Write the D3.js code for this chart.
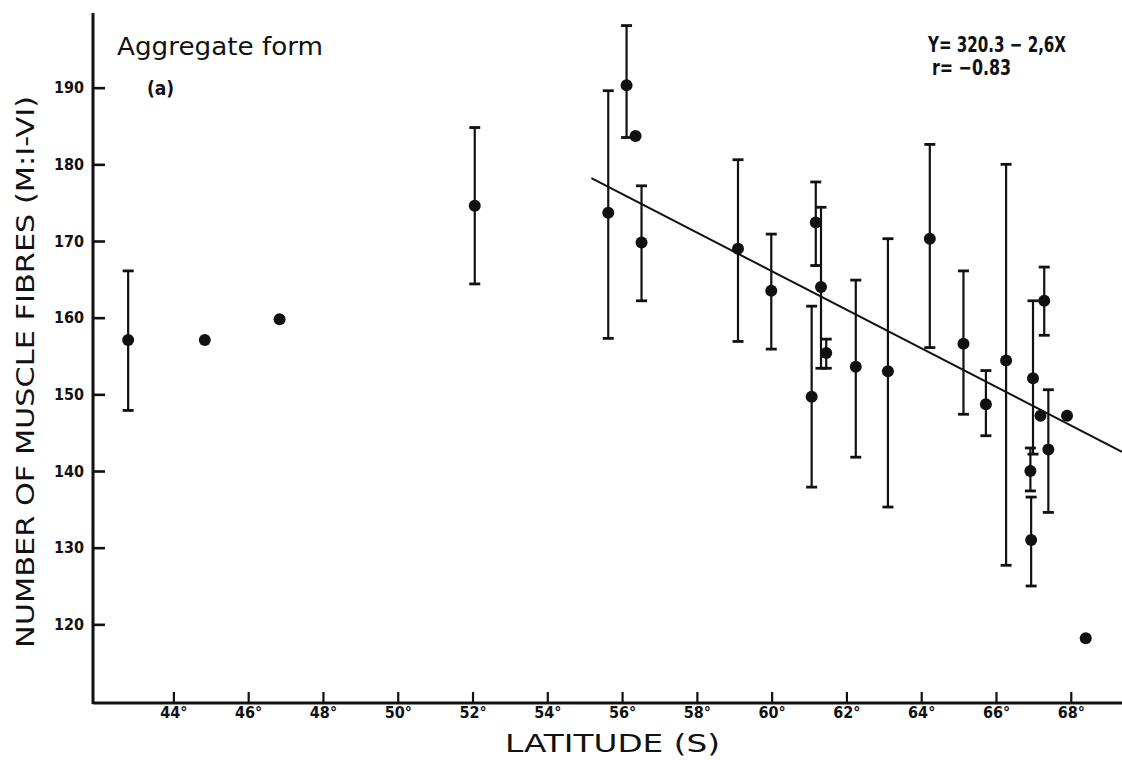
<!DOCTYPE html>
<html>
<head>
<meta charset="utf-8">
<script src="https://cdn.jsdelivr.net/npm/d3@7"></script>
<style>
  html, body { margin: 0; padding: 0; background: #fff; }
  svg { display: block; }
</style>
</head>
<body>
<svg id="chart" width="1122" height="760"></svg>
<script>
// ---- data ----
const latitudes = [42.79, 44.84, 46.84, 52.06, 55.63, 56.12, 56.36, 56.52, 59.10, 59.99,
                   61.07, 61.18, 61.32, 61.46, 62.25, 63.11, 64.23, 65.13, 65.73, 66.27,
                   66.92, 66.94, 66.99, 67.19, 67.29, 67.40, 67.90, 68.40];
const means     = [157.1, 157.1, 159.8, 174.6, 173.7, 190.3, 183.7, 169.8, 169.0, 163.5,
                   149.7, 172.4, 164.0, 155.4, 153.6, 153.0, 170.3, 156.6, 148.7, 154.4,
                   140.0, 131.0, 152.1, 147.2, 162.2, 142.8, 147.2, 118.2];
const upperErr  = [166.1, null, null, 184.8, 189.6, 198.1, null, 177.2, 180.6, 170.9,
                   161.5, 177.7, 174.4, 157.2, 164.9, 170.3, 182.6, 166.1, 153.1, 180.0,
                   143.0, 136.6, 162.2, null, 166.6, 150.6, null, null];
const lowerErr  = [147.9, null, null, 164.4, 157.3, 183.5, null, 162.2, 156.9, 155.9,
                   137.9, 166.8, 153.4, 153.4, 141.8, 135.3, 156.1, 147.4, 144.6, 127.7,
                   137.4, 125.0, 142.2, null, 157.7, 134.6, null, null];
const fitLats   = [55.18, 69.37];
const fitValues = [178.2, 142.5];
const xTickValues = [44, 46, 48, 50, 52, 54, 56, 58, 60, 62, 64, 66, 68];
const yTickValues = [120, 130, 140, 150, 160, 170, 180, 190];
const xTitle = "LATITUDE (S)";
const yTitle = "NUMBER OF MUSCLE FIBRES (M:I-VI)";
const panelTitle = "Aggregate form";
const panelLabel = "(a)";
const equationText = "Y= 320.3 \u2212 2,6X";
const rText = "r= \u22120.83";

// ---- drawing ----
const svg = d3.select("#chart");
const ink = "#111";
const boldFont = "'DejaVu Sans Condensed','Liberation Sans Narrow','Arial Narrow',sans-serif";
const plainFont = "'DejaVu Sans','Noto Sans',sans-serif";

const x = d3.scaleLinear().domain([41.85, 69.37]).range([93, 1122]);
const y = d3.scaleLinear().domain([110, 200]).range([701, 11]);

const data = latitudes.map((lat, i) => ({lat, mean: means[i], hi: upperErr[i], lo: lowerErr[i]}));

// x axis
const xAxis = d3.axisBottom(x).tickValues(xTickValues).tickSize(0).tickPadding(4)
  .tickFormat(d => d + "\u00b0");
const gx = svg.append("g").attr("transform", "translate(0,703)").call(xAxis);
gx.select(".domain").remove();
gx.selectAll(".tick text").attr("font-family", boldFont).attr("font-weight", "bold")
  .attr("font-size", 16).attr("fill", ink);
gx.selectAll(".tick").append("line").attr("y1", 0).attr("y2", -11)
  .attr("stroke", ink).attr("stroke-width", 2.2);

// y axis
const yAxis = d3.axisLeft(y).tickValues(yTickValues).tickSize(0).tickPadding(9);
const gy = svg.append("g").attr("transform", "translate(93,0)").call(yAxis);
gy.select(".domain").remove();
gy.selectAll(".tick text").attr("font-family", boldFont).attr("font-weight", "bold")
  .attr("font-size", 16).attr("fill", ink);
gy.selectAll(".tick").append("line").attr("x1", 0).attr("x2", 12)
  .attr("stroke", ink).attr("stroke-width", 2.6);

// axis lines
svg.append("line").attr("x1", x.range()[0]).attr("x2", x.range()[1])
  .attr("y1", 703).attr("y2", 703).attr("stroke", ink).attr("stroke-width", 3);
svg.append("line").attr("x1", 93).attr("x2", 93)
  .attr("y1", 13).attr("y2", 704).attr("stroke", ink).attr("stroke-width", 3);

// regression line
svg.append("line")
  .attr("x1", x(fitLats[0])).attr("y1", y(fitValues[0]))
  .attr("x2", x(fitLats[1])).attr("y2", y(fitValues[1]))
  .attr("stroke", ink).attr("stroke-width", 2);

// error bars
const eb = data.filter(d => d.hi != null);
const capW = 5.5;
svg.append("g").selectAll("line.bar").data(eb).join("line")
  .attr("x1", d => x(d.lat)).attr("x2", d => x(d.lat))
  .attr("y1", d => y(d.hi)).attr("y2", d => y(d.lo))
  .attr("stroke", ink).attr("stroke-width", 2.2);
svg.append("g").selectAll("line.cap").data(eb.flatMap(d => [{lat: d.lat, v: d.hi}, {lat: d.lat, v: d.lo}])).join("line")
  .attr("x1", d => x(d.lat) - capW).attr("x2", d => x(d.lat) + capW)
  .attr("y1", d => y(d.v)).attr("y2", d => y(d.v))
  .attr("stroke", ink).attr("stroke-width", 2.8);

// points
svg.append("g").selectAll("circle").data(data).join("circle")
  .attr("cx", d => x(d.lat)).attr("cy", d => y(d.mean)).attr("r", 6)
  .attr("fill", ink);

// titles
svg.append("text").attr("x", 117).attr("y", 55).text(panelTitle)
  .attr("font-family", plainFont).attr("font-size", 24).attr("fill", ink)
  .attr("textLength", 206).attr("lengthAdjust", "spacingAndGlyphs");
svg.append("text").attr("x", 147).attr("y", 95).text(panelLabel)
  .attr("font-family", boldFont).attr("font-weight", "bold").attr("font-size", 19).attr("fill", ink);

svg.append("text").attr("x", 928).attr("y", 52).text(equationText)
  .attr("font-family", boldFont).attr("font-weight", "bold").attr("font-size", 21).attr("fill", ink)
  .attr("textLength", 138).attr("lengthAdjust", "spacingAndGlyphs");
svg.append("text").attr("x", 932).attr("y", 75).text(rText)
  .attr("font-family", boldFont).attr("font-weight", "bold").attr("font-size", 21).attr("fill", ink)
  .attr("textLength", 79).attr("lengthAdjust", "spacingAndGlyphs");

svg.append("text").attr("x", 505).attr("y", 752).text(xTitle)
  .attr("font-family", plainFont).attr("font-size", 24).attr("fill", ink)
  .attr("textLength", 215).attr("lengthAdjust", "spacingAndGlyphs");

svg.append("text").attr("transform", "translate(34,648) rotate(-90)").text(yTitle)
  .attr("font-family", plainFont).attr("font-size", 25).attr("fill", ink)
  .attr("textLength", 552).attr("lengthAdjust", "spacingAndGlyphs");
</script>
</body>
</html>
